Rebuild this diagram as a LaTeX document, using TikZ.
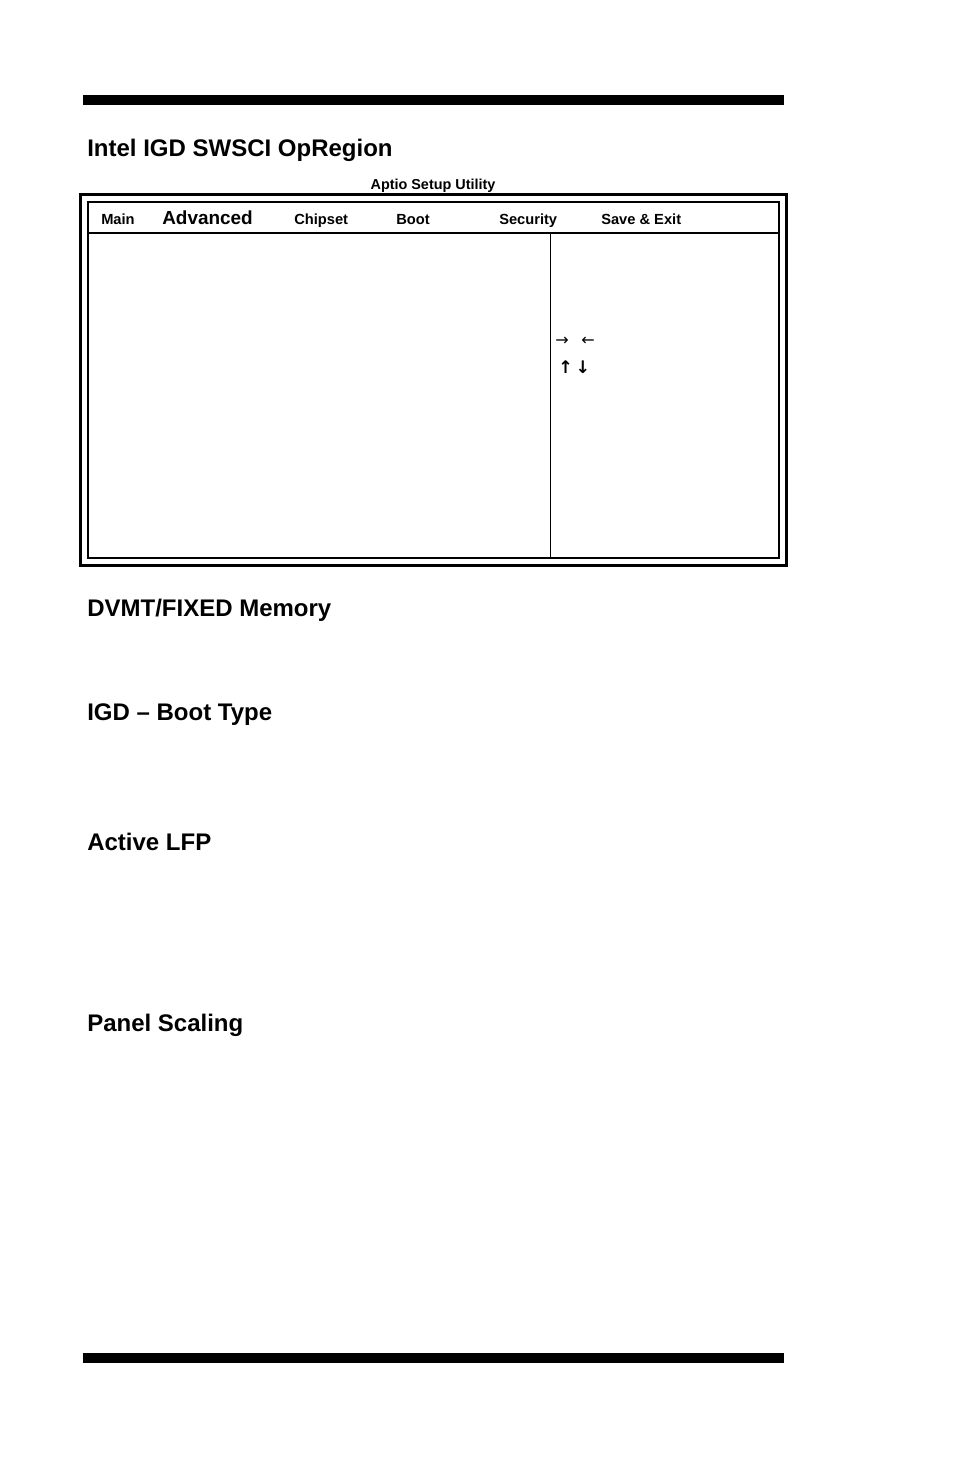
\documentclass[tikz,border=0pt]{standalone}
\usepackage{fontspec}
\setmainfont{Liberation Sans}
\newfontfamily\symf{DejaVu Sans}
\begin{document}
\begin{tikzpicture}[x=0.75pt,y=-0.75pt,
  head/.style={anchor=base west,font=\bfseries\fontsize{18}{20}\selectfont,inner sep=0},
  tab/.style={anchor=base west,font=\bfseries\fontsize{11}{13}\selectfont,inner sep=0}]
\useasboundingbox (0,0) rectangle (954,1475);
\fill (83,95) rectangle (784,105);
\fill (83,1353) rectangle (784,1363);
\node[head] (t1) at (87,156) {Intel IGD SWSCI OpRegion};
\node[anchor=base,font=\bfseries\fontsize{10.8}{12}\selectfont,inner sep=0] (ap) at (433,189) {Aptio Setup Utility};
\draw[line width=2.6pt] (80.5,194.5) rectangle (786.5,565.5);
\draw[line width=1.8pt] (88,202) rectangle (779,558);
\draw[line width=1.5pt] (88,233) -- (779,233);
\draw[line width=0.6pt] (550,233) -- (550,558);
\node[tab] (m) at (101,224) {Main};
\node[tab,font=\bfseries\fontsize{14.2}{16}\selectfont] (a) at (162,224) {Advanced};
\node[tab] (c) at (294,224) {Chipset};
\node[tab] (b) at (396,224) {Boot};
\node[tab] (s) at (499,224) {Security};
\node[tab] (e) at (601,224) {Save \& Exit};
\node[anchor=west,inner sep=0,font=\symf\fontsize{12}{14}\selectfont] (ar1) at (555,341) {→\hspace{0.8em}←};
\node[anchor=west,inner sep=0,font=\symf\bfseries\fontsize{13}{15}\selectfont] (ar2) at (558,367) {↑\,↓};
\node[head] (h2) at (87,616) {DVMT/FIXED Memory};
\node[head] (h3) at (87,720) {IGD – Boot Type};
\node[head] (h4) at (87,850) {Active LFP};
\node[head] (h5) at (87,1031) {Panel Scaling};
\end{tikzpicture}
\end{document}
